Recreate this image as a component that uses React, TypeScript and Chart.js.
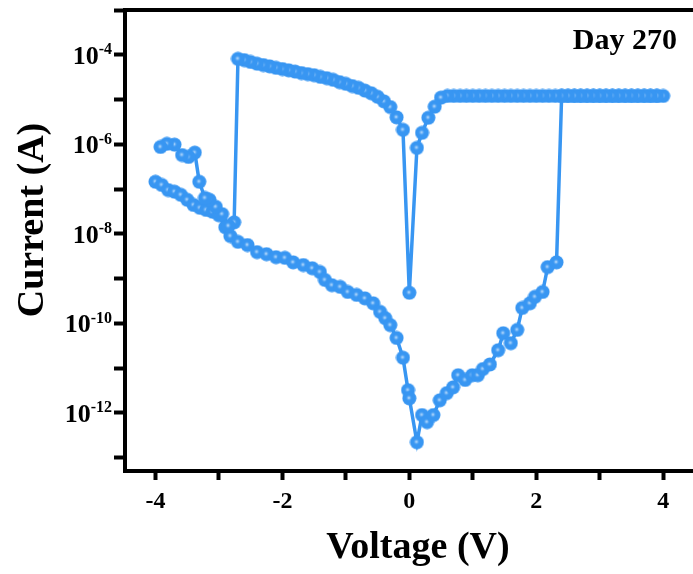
import React, { useEffect, useRef } from 'react';
import { Chart, registerables } from 'chart.js';

Chart.register(...registerables);

// Sweep 1: 0 V -> +4 V (high-resistance state, SET near +2.4 V, then compliance)
const sweep1Voltage = [
  0.12, 0.2, 0.28, 0.38, 0.48, 0.59, 0.69, 0.77, 0.88, 0.99, 1.08, 1.16, 1.27, 1.4, 1.48, 1.6,
  1.7, 1.78, 1.9, 1.98, 2.1, 2.18, 2.32,
  2.4, 2.5, 2.6, 2.7, 2.8, 2.9, 3.0, 3.1, 3.2, 3.3, 3.4, 3.5, 3.6, 3.7, 3.8, 3.9, 4.0,
];
const sweep1Current = [
  2.2e-13, 8.9e-13, 6.2e-13, 8.9e-13, 1.9e-12, 2.75e-12, 3.7e-12, 6.9e-12, 5.4e-12, 6.9e-12,
  6.9e-12, 9.5e-12, 1.2e-11, 2.5e-11, 6.0e-11, 3.6e-11, 7.1e-11, 2.2e-10, 2.8e-10, 3.9e-10,
  5.0e-10, 1.8e-9, 2.3e-9,
  1.2e-5, 1.2e-5, 1.2e-5, 1.2e-5, 1.2e-5, 1.2e-5, 1.2e-5, 1.2e-5, 1.2e-5, 1.2e-5, 1.2e-5,
  1.2e-5, 1.2e-5, 1.2e-5, 1.2e-5, 1.2e-5, 1.2e-5,
];

// Sweep 2: +4 V -> 0 V (low-resistance state)
const sweep2Voltage = [
  3.9, 3.8, 3.7, 3.6, 3.5, 3.4, 3.3, 3.2, 3.1, 3.0, 2.9, 2.8, 2.7, 2.6, 2.5, 2.4, 2.3, 2.2,
  2.1, 2.0, 1.9, 1.8, 1.7, 1.6, 1.5, 1.4, 1.3, 1.2, 1.1, 1.0, 0.9, 0.8, 0.7, 0.6,
  0.5, 0.4, 0.3, 0.2, 0.12, 0.0,
];
const sweep2Current = [
  1.2e-5, 1.2e-5, 1.2e-5, 1.2e-5, 1.2e-5, 1.2e-5, 1.2e-5, 1.2e-5, 1.2e-5, 1.2e-5, 1.2e-5,
  1.2e-5, 1.2e-5, 1.2e-5, 1.2e-5, 1.2e-5, 1.2e-5, 1.2e-5, 1.2e-5, 1.2e-5, 1.2e-5, 1.2e-5,
  1.2e-5, 1.2e-5, 1.2e-5, 1.2e-5, 1.2e-5, 1.2e-5, 1.2e-5, 1.2e-5, 1.2e-5, 1.2e-5, 1.2e-5,
  1.2e-5, 1.1e-5, 6.9e-6, 3.9e-6, 1.8e-6, 8.3e-7, 4.8e-10,
];

// Sweep 3: 0 V -> -2.7 V (low-resistance state until RESET)
const sweep3Voltage = [
  -0.1, -0.2, -0.3, -0.4, -0.5, -0.6, -0.7, -0.8, -0.9, -1.0, -1.1, -1.2, -1.3, -1.4,
  -1.5, -1.6, -1.7, -1.8, -1.9, -2.0, -2.1, -2.2, -2.3, -2.4, -2.5, -2.6, -2.7,
];
const sweep3Current = [
  2.1e-6, 4.0e-6, 6.8e-6, 9.1e-6, 1.15e-5, 1.38e-5, 1.58e-5, 1.82e-5, 2.0e-5, 2.24e-5,
  2.45e-5, 2.75e-5, 3.0e-5, 3.2e-5, 3.5e-5, 3.7e-5, 3.9e-5, 4.2e-5, 4.5e-5, 4.8e-5,
  5.1e-5, 5.5e-5, 5.9e-5, 6.3e-5, 6.9e-5, 7.6e-5, 8.1e-5,
];

// Sweep 4: -2.76 V -> -3.92 V (after RESET)
const sweep4Voltage = [
  -2.76, -2.85, -2.95, -3.05, -3.15, -3.22, -3.31, -3.38, -3.48, -3.58, -3.7, -3.82, -3.92,
];
const sweep4Current = [
  1.8e-8, 1.5e-8, 2.75e-8, 4.0e-8, 5.75e-8, 6.3e-8, 1.45e-7, 6.5e-7, 5.2e-7, 5.75e-7,
  9.8e-7, 1.02e-6, 8.7e-7,
];

// Sweep 5: -4 V -> 0 V (high-resistance state)
const sweep5Voltage = [
  -4.0, -3.9, -3.8, -3.7, -3.6, -3.5, -3.4, -3.3, -3.2, -3.1, -3.0, -2.9, -2.82, -2.7,
  -2.55, -2.4, -2.25, -2.1, -1.96, -1.83, -1.67, -1.53, -1.41, -1.33, -1.22, -1.09, -0.97,
  -0.83, -0.7, -0.57, -0.46, -0.38, -0.3, -0.2, -0.1, -0.02, 0.0,
];
const sweep5Current = [
  1.45e-7, 1.23e-7, 9.5e-8, 8.7e-8, 7.4e-8, 5.75e-8, 4.4e-8, 3.8e-8, 3.4e-8, 3.1e-8,
  2.6e-8, 1.4e-8, 8.9e-9, 6.6e-9, 5.6e-9, 3.9e-9, 3.5e-9, 3.0e-9, 2.9e-9, 2.3e-9, 2.0e-9,
  1.7e-9, 1.4e-9, 9.3e-10, 7.1e-10, 6.5e-10, 5.0e-10, 4.3e-10, 3.6e-10, 2.8e-10, 1.8e-10,
  1.3e-10, 9.1e-11, 4.7e-11, 1.7e-11, 3.2e-12, 2.1e-12,
];

// Sweep order as measured
const sweepOrder = [
  [sweep5Voltage, sweep5Current],
  [sweep1Voltage, sweep1Current],
  [sweep2Voltage, sweep2Current],
  [sweep3Voltage, sweep3Current],
  [sweep4Voltage, sweep4Current],
];

const xTickValues = [-4, -3, -2, -1, 0, 1, 2, 3, 4];
const xTickLabels = ['-4', '', '-2', '', '0', '', '2', '', '4'];
const yTickExponents = [-13, -12, -11, -10, -9, -8, -7, -6, -5, -4, -3];
const yLabelExponents = [-12, -10, -8, -6, -4];
const xTitle = 'Voltage (V)';
const yTitle = 'Current (A)';
const annotation = 'Day 270';

const X_MIN = -4.48;
const X_MAX = 4.47;
const Y_MIN = 5e-14;
const Y_MAX = 1e-3;

const BLUE = '#3896f2';
const FONT = '"Liberation Serif", "Times New Roman", serif';

function makeMarker(): HTMLCanvasElement {
  const c = document.createElement('canvas');
  c.width = 15;
  c.height = 15;
  const g = c.getContext('2d')!;
  g.beginPath();
  g.arc(7.5, 7.5, 7, 0, Math.PI * 2);
  g.fillStyle = BLUE;
  g.fill();
  const rg = g.createRadialGradient(7, 7, 0, 7, 7, 3.4);
  rg.addColorStop(0, 'rgba(225,240,255,0.95)');
  rg.addColorStop(1, 'rgba(56,150,242,0)');
  g.beginPath();
  g.arc(7, 7, 3.4, 0, Math.PI * 2);
  g.fillStyle = rg;
  g.fill();
  return c;
}

const textPlugin = {
  id: 'textPlugin',
  afterDraw(chart: any) {
    const ctx: CanvasRenderingContext2D = chart.ctx;
    const area = chart.chartArea;
    const xs = chart.scales.x;
    const ys = chart.scales.y;
    ctx.save();
    ctx.fillStyle = '#000';

    // x tick labels
    ctx.font = `bold 24px ${FONT}`;
    ctx.textAlign = 'center';
    ctx.textBaseline = 'alphabetic';
    xTickValues.forEach((v, i) => {
      const lab = xTickLabels[i];
      if (lab) ctx.fillText(lab, xs.getPixelForValue(v), area.bottom + 37);
    });

    // y tick labels 10^n
    const rightEdge = area.left - 13;
    yLabelExponents.forEach((e) => {
      const py = ys.getPixelForValue(Math.pow(10, e));
      const expText = String(e);
      ctx.font = `bold 16px ${FONT}`;
      const ew = ctx.measureText(expText).width;
      ctx.textAlign = 'left';
      ctx.fillText(expText, rightEdge - ew, py - 0.5);
      ctx.font = `bold 26px ${FONT}`;
      ctx.textAlign = 'right';
      ctx.fillText('10', rightEdge - ew, py + 9);
    });

    // x title
    ctx.font = `bold 38px ${FONT}`;
    ctx.textAlign = 'center';
    ctx.fillText(xTitle, 418, area.bottom + 87);

    // y title
    ctx.save();
    ctx.translate(43, 220);
    ctx.rotate(-Math.PI / 2);
    ctx.textAlign = 'center';
    ctx.fillText(yTitle, 0, 0);
    ctx.restore();

    // annotation
    ctx.font = `bold 30px ${FONT}`;
    ctx.textAlign = 'right';
    ctx.fillText(annotation, 677, area.top + 39);

    ctx.restore();
  },
};

export default function App() {
  const canvasRef = useRef<HTMLCanvasElement | null>(null);

  useEffect(() => {
    const canvas = canvasRef.current;
    if (!canvas) return;
    const points: { x: number; y: number }[] = [];
    sweepOrder.forEach(([vs, is]) => {
      vs.forEach((v, i) => points.push({ x: v, y: is[i] }));
    });
    const marker = makeMarker();

    const chart = new Chart(canvas, {
      type: 'line',
      data: {
        datasets: [
          {
            data: points,
            borderColor: BLUE,
            borderWidth: 3.5,
            backgroundColor: BLUE,
            pointStyle: marker as any,
            pointRadius: 7,
            tension: 0,
            fill: false,
          },
        ],
      },
      options: {
        animation: false,
        responsive: false,
        maintainAspectRatio: false,
        layout: { autoPadding: false, padding: { top: 10, left: 0, right: 0, bottom: 0 } },
        plugins: { legend: { display: false }, tooltip: { enabled: false } },
        scales: {
          x: {
            type: 'linear',
            position: 'bottom',
            min: X_MIN,
            max: X_MAX,
            afterBuildTicks: (s: any) => {
              s.ticks = xTickValues.map((v) => ({ value: v }));
            },
            afterFit: (s: any) => {
              s.height = 103;
            },
            ticks: { display: false },
            grid: {
              drawOnChartArea: false,
              drawTicks: true,
              tickLength: 9,
              tickWidth: 4,
              tickColor: '#000',
            },
            border: { display: true, color: '#000', width: 4 },
          },
          xTop: {
            type: 'linear',
            position: 'top',
            min: X_MIN,
            max: X_MAX,
            afterFit: (s: any) => {
              s.height = 0;
            },
            ticks: { display: false },
            grid: { drawOnChartArea: false, drawTicks: false },
            border: { display: true, color: '#000', width: 4 },
          },
          y: {
            type: 'logarithmic',
            position: 'left',
            min: Y_MIN,
            max: Y_MAX,
            afterBuildTicks: (s: any) => {
              s.ticks = yTickExponents.map((e) => ({ value: Math.pow(10, e) }));
            },
            afterFit: (s: any) => {
              s.width = 125;
            },
            ticks: { display: false },
            grid: {
              drawOnChartArea: false,
              drawTicks: true,
              tickLength: 11,
              tickWidth: 4,
              tickColor: '#000',
            },
            border: { display: true, color: '#000', width: 4 },
          },
        },
      },
      plugins: [textPlugin],
    } as any);

    return () => chart.destroy();
  }, []);

  return (
    <div style={{ position: 'fixed', left: 0, top: 0, width: 693, height: 574, background: '#fff' }}>
      <canvas ref={canvasRef} width={693} height={574} style={{ width: 693, height: 574, display: 'block' }} />
    </div>
  );
}
